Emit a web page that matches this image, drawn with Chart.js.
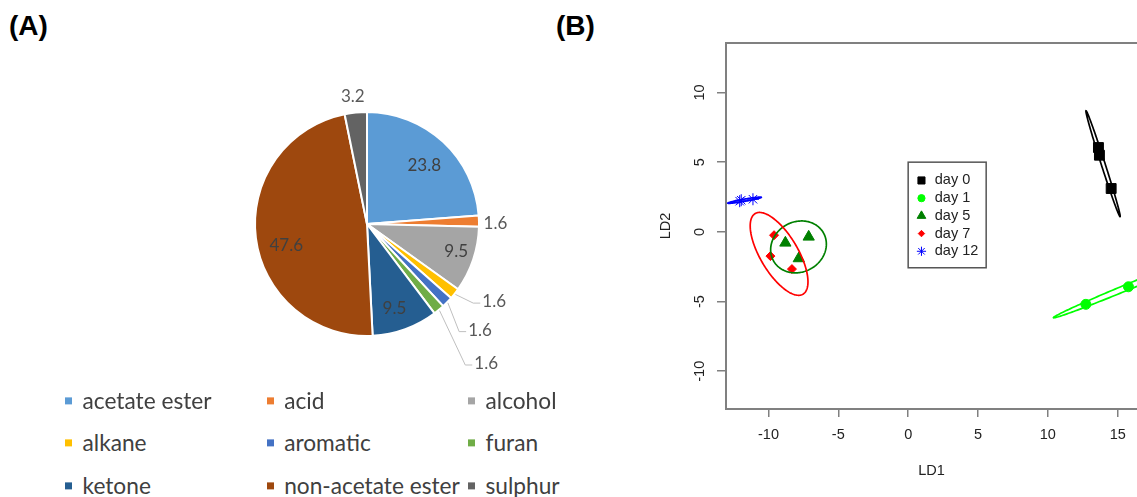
<!DOCTYPE html>
<html>
<head>
<meta charset="utf-8">
<script src="https://cdn.jsdelivr.net/npm/chart.js@4.4.1/dist/chart.umd.min.js"></script>
<style>
  html, body { margin: 0; padding: 0; background: #fff; }
  body { width: 1137px; height: 497px; position: relative; overflow: hidden; font-family: Lato, sans-serif; }
  .tag { position: absolute; font: bold 28px "Liberation Sans", Arial, sans-serif; color: #000; line-height: 1; }
  #pieWrap { position: absolute; left: 197px; top: 54px; width: 340px; height: 340px; }
  #ldaWrap { position: absolute; left: 640px; top: 0; width: 497px; height: 497px; }
  .leg { position: absolute; display: flex; align-items: center; font-size: 22.7px; color: #404040;
         white-space: nowrap; transform: translateY(-50%); line-height: 1.2; }
  .leg i { display: inline-block; width: 7px; height: 7px; margin-right: 10.5px; }
</style>
</head>
<body>
<div class="tag" style="left:9px; top:12px;">(A)</div>
<div class="tag" style="left:556px; top:12px;">(B)</div>
<div id="pieWrap"><canvas id="pieChart" width="340" height="340"></canvas></div>
<div id="pieLegend"></div>
<div id="ldaWrap"><canvas id="ldaChart" width="497" height="497"></canvas></div>
<script>
// (A) composição dos voláteis, %
const categories = ['acetate ester', 'acid', 'alcohol', 'alkane', 'aromatic', 'furan', 'ketone', 'non-acetate ester', 'sulphur'];
const shares = [23.8, 1.6, 9.5, 1.6, 1.6, 1.6, 9.5, 47.6, 3.2];
const sliceColors = ['#5B9BD5', '#ED7D31', '#A5A5A5', '#FFC000', '#4472C4', '#70AD47', '#255E91', '#9E480E', '#636363'];

// (B) scores LDA por grupo (3 amostras cada)
const groups = ['day 0', 'day 1', 'day 5', 'day 7', 'day 12'];
const ld1 = [[13.62, 13.69, 14.53], [12.72, 15.77, 19.0], [-8.79, -7.12, -7.83], [-9.60, -9.86, -8.32], [-12.06, -11.11, -11.95]];
const ld2 = [[6.05, 5.50, 3.11], [-5.20, -3.94, -2.60], [-0.79, -0.36, -1.91], [-0.24, -1.74, -2.67], [2.20, 2.34, 2.27]];
// elipses: centro, semi-eixos, ângulo (graus)
const ellCx = [13.95, 15.83, -7.85, -9.24, -11.71];
const ellCy = [4.89, -3.91, -1.08, -1.58, 2.27];
const ellA = [3.99, 5.88, 2.05, 3.36, 1.22];
const ellB = [0.14, 0.21, 1.80, 1.35, 0.08];
const ellAngle = [-72.2, 22.5, 29, -59.4, 9.9];
const xTicks = [-10, -5, 0, 5, 10, 15];
const yTicks = [-10, -5, 0, 5, 10];

// estilos
const groupColors = ['#000000', '#00ff00', '#008000', '#ff0000', '#0000ff'];
const pointStyles = ['rect', 'circle', 'triangle', 'rectRot', 'star'];
const pointSizes = [7, 5, 6.5, 4.5, 6];
const legendSizes = [5, 3.6, 5, 3.2, 4.6];
const axisGray = '#808080';
const textCol = '#222';
const rFont = '"Liberation Sans", Arial, sans-serif';

// posição dos rótulos do gráfico de pizza: [ângulo a partir das 12h, fração do raio]
const labelPlace = [[44.4, 0.73], [89.8, 1.147], [107.4, 0.835], [121.4, 1.33], [133.2, 1.384],
                    [139.5, 1.638], [162, 0.794], [254.8, 0.747], [353.6, 1.142]];
const outside = [false, true, false, true, true, true, false, false, true];
const leader = [false, false, false, true, true, true, false, false, false];

// Legenda HTML do gráfico de pizza (3 colunas)
const legCols = [65, 266.7, 468];
const legRows = [400.7, 443.3, 486];
const legendEl = document.getElementById('pieLegend');
categories.forEach((c, i) => {
    const d = document.createElement('div');
    d.className = 'leg';
    d.style.left = legCols[i % 3] + 'px';
    d.style.top = legRows[Math.floor(i / 3)] + 'px';
    d.innerHTML = '<i style="background:' + sliceColors[i] + '"></i>' + c;
    legendEl.appendChild(d);
});

const pieLabels = {
    id: 'pieLabels',
    afterDatasetsDraw(chart) {
        const ctx = chart.ctx;
        const arcs = chart.getDatasetMeta(0).data;
        ctx.save();
        ctx.font = '17px Lato, sans-serif';
        ctx.textAlign = 'center';
        ctx.textBaseline = 'middle';
        arcs.forEach((arc, i) => {
            const p = arc.getProps(['x', 'y', 'outerRadius', 'startAngle', 'endAngle'], true);
            const a = labelPlace[i][0] * Math.PI / 180;
            const lx = p.x + Math.sin(a) * p.outerRadius * labelPlace[i][1];
            const ly = p.y - Math.cos(a) * p.outerRadius * labelPlace[i][1];
            const txt = shares[i].toFixed(1);
            if (leader[i]) {
                const mid = (p.startAngle + p.endAngle) / 2;
                const left = lx - ctx.measureText(txt).width / 2;
                ctx.strokeStyle = '#bfbfbf';
                ctx.lineWidth = 1;
                ctx.beginPath();
                ctx.moveTo(p.x + Math.cos(mid) * (p.outerRadius + 1), p.y + Math.sin(mid) * (p.outerRadius + 1));
                ctx.lineTo(left - 9, ly + 1.5);
                ctx.lineTo(left - 2, ly + 1.5);
                ctx.stroke();
            }
            ctx.fillStyle = outside[i] ? '#595959' : '#404040';
            ctx.fillText(txt, lx, ly);
        });
        ctx.restore();
    }
};

new Chart(document.getElementById('pieChart'), {
    type: 'pie',
    data: {
        labels: categories,
        datasets: [{
            data: shares,
            backgroundColor: sliceColors,
            borderColor: '#fff',
            borderWidth: 2,
            radius: 112
        }]
    },
    options: {
        responsive: false,
        animation: false,
        radius: 112,
        layout: { padding: 0 },
        plugins: { legend: { display: false }, tooltip: { enabled: false } }
    },
    plugins: [pieLabels]
});

// elipses + moldura + rótulos do eixo y + legenda do gráfico LDA
const ldaExtras = {
    id: 'ldaExtras',
    afterDatasetsDraw(chart) {
        const { ctx, chartArea, scales: { x, y } } = chart;
        ctx.save();
        ctx.beginPath();
        ctx.rect(chartArea.left, chartArea.top, chartArea.width, chartArea.height);
        ctx.clip();
        ctx.lineWidth = 1.7;
        groups.forEach((g, i) => {
            const th = ellAngle[i] * Math.PI / 180;
            ctx.beginPath();
            for (let k = 0; k <= 180; k++) {
                const t = k / 180 * 2 * Math.PI;
                const u = ellA[i] * Math.cos(t), v = ellB[i] * Math.sin(t);
                const px = x.getPixelForValue(ellCx[i] + u * Math.cos(th) - v * Math.sin(th));
                const py = y.getPixelForValue(ellCy[i] + u * Math.sin(th) + v * Math.cos(th));
                if (k) ctx.lineTo(px, py); else ctx.moveTo(px, py);
            }
            ctx.closePath();
            ctx.strokeStyle = groupColors[i];
            ctx.stroke();
        });
        ctx.restore();
    },
    afterDraw(chart) {
        const { ctx, chartArea, scales: { x, y } } = chart;
        ctx.save();
        ctx.strokeStyle = axisGray;
        ctx.lineWidth = 2;
        ctx.beginPath();
        ctx.moveTo(chartArea.left - 1, chartArea.top);
        ctx.lineTo(chartArea.right, chartArea.top);
        ctx.stroke();

        ctx.fillStyle = textCol;
        ctx.font = '14.5px ' + rFont;
        ctx.textAlign = 'center';
        ctx.textBaseline = 'middle';
        yTicks.forEach(v => {
            ctx.save();
            ctx.translate(59.5, y.getPixelForValue(v));
            ctx.rotate(-Math.PI / 2);
            ctx.fillText(String(v), 0, 0);
            ctx.restore();
        });

        // legenda ancorada em (0, 5)
        const lx = x.getPixelForValue(0), ly = y.getPixelForValue(5);
        ctx.strokeStyle = '#555';
        ctx.lineWidth = 1.5;
        ctx.strokeRect(lx, ly, 78, 105.6);
        ctx.textAlign = 'left';
        groups.forEach((g, i) => {
            const cy = ly + 18.3 + i * 17.7;
            ctx.fillStyle = groupColors[i];
            ctx.strokeStyle = groupColors[i];
            ctx.lineWidth = 1;
            Chart.helpers.drawPoint(ctx, { pointStyle: pointStyles[i], radius: legendSizes[i], rotation: 0, borderWidth: 1 }, lx + 13.3, cy);
            ctx.fillStyle = textCol;
            ctx.fillText(g, lx + 26.6, cy);
        });
        ctx.restore();
    }
};

const axisFont = { family: rFont, size: 14.5 };

new Chart(document.getElementById('ldaChart'), {
    type: 'scatter',
    data: {
        datasets: groups.map((g, i) => ({
            label: g,
            data: ld1[i].map((v, k) => ({ x: v, y: ld2[i][k] })),
            pointStyle: pointStyles[i],
            pointRadius: pointSizes[i],
            backgroundColor: groupColors[i],
            borderColor: groupColors[i],
            pointBorderWidth: 1,
            showLine: false
        }))
    },
    options: {
        responsive: false,
        animation: false,
        clip: 0,
        layout: { autoPadding: false, padding: { top: 43, right: 0, bottom: 0, left: 0 } },
        plugins: { legend: { display: false }, tooltip: { enabled: false } },
        scales: {
            x: {
                type: 'linear', min: -13.04, max: 16.38,
                afterBuildTicks: s => { s.ticks = xTicks.map(v => ({ value: v })); },
                afterFit: s => { s.height = 88; },
                grid: { drawOnChartArea: false, drawTicks: true, tickLength: 8, color: axisGray, lineWidth: 1.5 },
                border: { display: true, color: axisGray, width: 2 },
                ticks: { color: textCol, font: axisFont, padding: 9, maxRotation: 0, autoSkip: false },
                title: { display: true, text: 'LD1', color: textCol, font: axisFont, padding: { top: 0, bottom: 17 } }
            },
            y: {
                type: 'linear', min: -12.71, max: 13.55,
                afterBuildTicks: s => { s.ticks = yTicks.map(v => ({ value: v })); },
                afterFit: s => { s.width = 86; },
                grid: { drawOnChartArea: false, drawTicks: true, tickLength: 9, color: axisGray, lineWidth: 1.5 },
                border: { display: true, color: axisGray, width: 2 },
                ticks: { display: false },
                title: { display: true, text: 'LD2', color: textCol, font: axisFont, padding: { top: 17, bottom: 0 } }
            }
        }
    },
    plugins: [ldaExtras]
});
</script>
</body>
</html>
